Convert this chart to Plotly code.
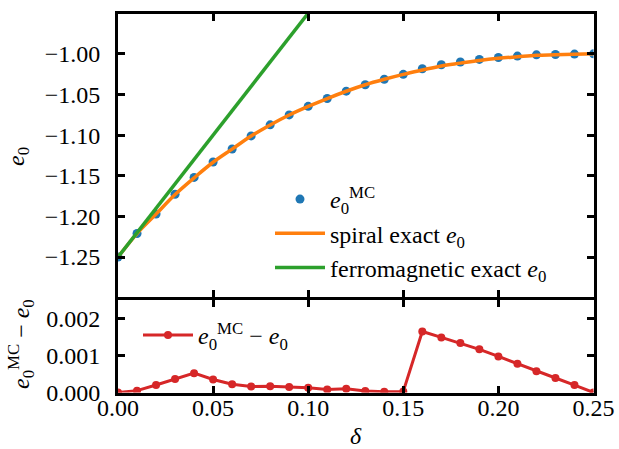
import plotly.graph_objects as go

# ---- data ----
delta = [0.00, 0.01, 0.02, 0.03, 0.04, 0.05, 0.06, 0.07, 0.08, 0.09, 0.10, 0.11, 0.12,
         0.13, 0.14, 0.15, 0.16, 0.17, 0.18, 0.19, 0.20, 0.21, 0.22, 0.23, 0.24, 0.25]
e0_mc = [-1.2500, -1.2210, -1.1970, -1.1727, -1.1520, -1.1330, -1.1170, -1.1010, -1.0873,
         -1.0751, -1.0646, -1.0549, -1.0459, -1.0380, -1.0313, -1.0252, -1.0183, -1.0134,
         -1.0101, -1.0069, -1.0045, -1.0028, -1.0012, -1.0008, -1.0003, -1.0000]
diff = [0.0, 0.00005, 0.00020, 0.00036, 0.00052, 0.00035, 0.00022, 0.00016, 0.00017,
        0.00015, 0.00013, 0.00008, 0.00010, 0.00004, 0.00002, 0.00003, 0.00164, 0.00148,
        0.00133, 0.00116, 0.00097, 0.00077, 0.00057, 0.00039, 0.00020, 0.0]
e0_spiral = [m - d for m, d in zip(e0_mc, diff)]
ferro_delta = [0.0, 0.25]
ferro_e0 = [-1.25, -0.50]

xticks = [0.0, 0.05, 0.10, 0.15, 0.20, 0.25]
xticklabels = ["0.00", "0.05", "0.10", "0.15", "0.20", "0.25"]
ytop_ticks = [-1.25, -1.20, -1.15, -1.10, -1.05, -1.00]
ytop_labels = ["\u22121.25", "\u22121.20", "\u22121.15", "\u22121.10", "\u22121.05", "\u22121.00"]
ybot_ticks = [0.0, 0.001, 0.002]
ybot_labels = ["0.000", "0.001", "0.002"]

BLUE, ORANGE, GREEN, RED = "#1f77b4", "#ff7f0e", "#2ca02c", "#d62728"
FONT = "Liberation Serif"
FS = 24
FW, FH = 619, 449
LW = 3


def px(x):
    return x / FW


def py(y):
    return 1 - y / FH


fig = go.Figure()
fig.add_trace(go.Scatter(x=delta, y=e0_mc, mode="markers", xaxis="x", yaxis="y",
                         marker=dict(color=BLUE, size=9),
                         name="<i>e</i><sub>0</sub><sup>MC</sup>", legend="legend"))
fig.add_trace(go.Scatter(x=delta, y=e0_spiral, mode="lines", line_shape="spline",
                         xaxis="x", yaxis="y", line=dict(color=ORANGE, width=3.5),
                         name="spiral exact <i>e</i><sub>0</sub>", legend="legend"))
fig.add_trace(go.Scatter(x=ferro_delta, y=ferro_e0, mode="lines", xaxis="x", yaxis="y",
                         line=dict(color=GREEN, width=3.5),
                         name="ferromagnetic exact <i>e</i><sub>0</sub>", legend="legend"))
fig.add_trace(go.Scatter(x=delta, y=diff, mode="lines+markers", xaxis="x2", yaxis="y2",
                         line=dict(color=RED, width=3), marker=dict(color=RED, size=8),
                         name="<i>e</i><sub>0</sub><sup>MC</sup> \u2212 <i>e</i><sub>0</sub>",
                         legend="legend2"))

# plotly draws axis lines just outside the plot area; shift domains by half a line
h = LW / 2
x0, x1 = px(116.5 + h), px(595 - h)
axis_common = dict(showline=True, linecolor="black", linewidth=LW, mirror="ticks",
                   ticks="inside", ticklen=7, tickwidth=2.5, tickcolor="black",
                   showgrid=False, zeroline=False, automargin=False,
                   tickfont=dict(family=FONT, size=FS, color="black"))

fig.update_layout(
    width=FW, height=FH, margin=dict(l=0, r=0, t=0, b=0, autoexpand=False),
    plot_bgcolor="white", paper_bgcolor="white",
    font=dict(family=FONT, size=FS, color="black"),
    xaxis=dict(domain=[x0, x1], range=[0, 0.25], anchor="y", tickvals=xticks,
               showticklabels=False, **axis_common),
    yaxis=dict(domain=[py(298 - h), py(12.5 + h)], range=[-1.2985, -0.951], anchor="x",
               tickvals=ytop_ticks, ticktext=ytop_labels, ticklabelstandoff=10,
               **axis_common),
    xaxis2=dict(domain=[x0, x1], range=[0, 0.25], anchor="y2", tickvals=xticks,
                ticktext=xticklabels, ticklabelstandoff=-8, **axis_common),
    yaxis2=dict(domain=[py(394 - h), py(298 + h)], range=[0, 0.0025], anchor="x2",
                tickvals=ybot_ticks, ticktext=ybot_labels, ticklabelstandoff=10,
                **axis_common),
    legend=dict(x=px(270), y=py(177), xanchor="left", yanchor="top",
                bgcolor="rgba(0,0,0,0)", borderwidth=0,
                font=dict(family=FONT, size=FS), itemwidth=50, tracegroupgap=0),
    legend2=dict(x=px(138), y=py(313), xanchor="left", yanchor="top",
                 bgcolor="rgba(0,0,0,0)", borderwidth=0,
                 font=dict(family=FONT, size=FS), itemwidth=50),
    annotations=[
        dict(text="<i>e</i><sub>0</sub>", xref="paper", yref="paper",
             x=px(18), y=py(157), xanchor="center", yanchor="middle",
             showarrow=False, textangle=-90, font=dict(family=FONT, size=FS)),
        dict(text="<i>e</i><sub>0</sub><sup>MC</sup> \u2212 <i>e</i><sub>0</sub>",
             xref="paper", yref="paper", x=px(21), y=py(344),
             xanchor="center", yanchor="middle", showarrow=False,
             textangle=-90, font=dict(family=FONT, size=FS)),
        dict(text="<i>\u03b4</i>", xref="paper", yref="paper",
             x=px(356), y=py(436), xanchor="center", yanchor="middle",
             showarrow=False, font=dict(family=FONT, size=FS)),
    ],
)

fig.write_html(
    "out.html",
    config={"displayModeBar": False},
    post_script="document.body.style.margin='0';document.body.style.overflow='hidden';",
)
